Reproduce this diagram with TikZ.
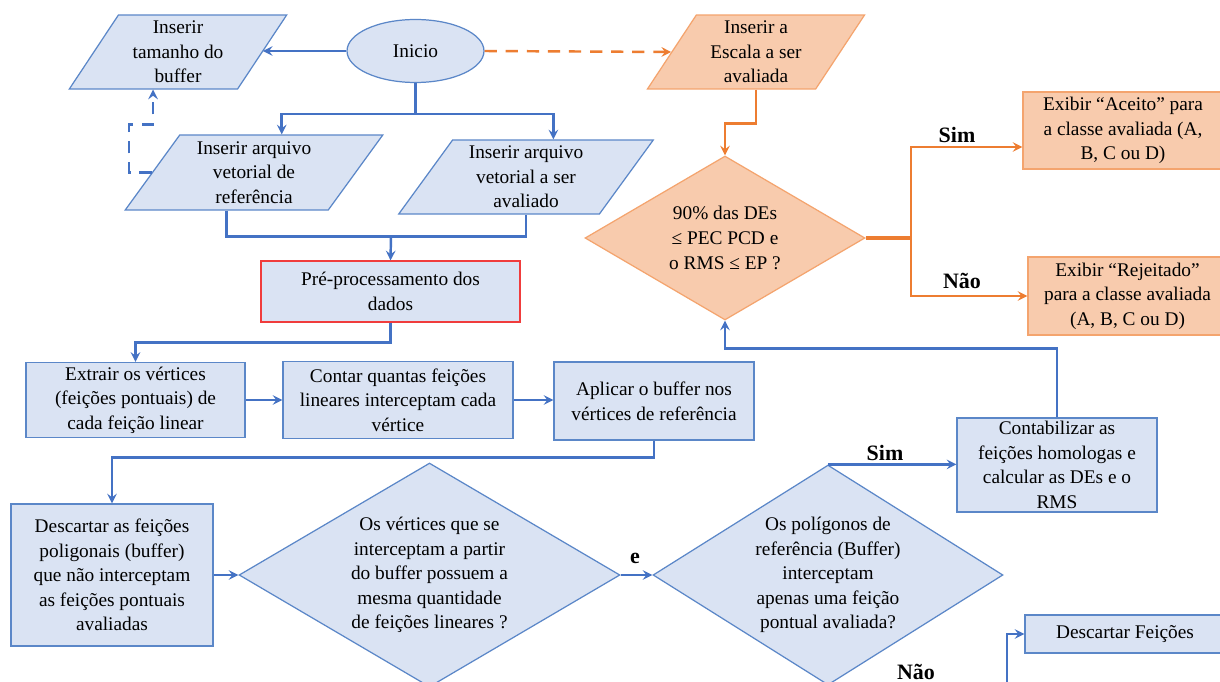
\documentclass[tikz,border=0pt]{standalone}
\usepackage{fontspec}
\setmainfont{Liberation Serif}
\usepackage{tikz}
\usetikzlibrary{positioning}
\usetikzlibrary{arrows}
\usetikzlibrary{shapes.geometric}

\definecolor{azulclaro}{HTML}{DAE3F3}
\definecolor{azulborda}{HTML}{5B87C8}
\definecolor{azulseta}{HTML}{4472C4}
\definecolor{laranjaclaro}{HTML}{F8CBAD}
\definecolor{laranjaborda}{HTML}{F4A46E}
\definecolor{laranjaseta}{HTML}{ED7D31}
\definecolor{vermelho}{HTML}{F03C3C}

\begin{document}
\begin{tikzpicture}[x=0.02cm, y=-0.02cm,
	txt/.style={font=\fontsize{11}{14}\selectfont, align=center, inner sep=0pt},
	rot/.style={font=\fontsize{12.5}{15}\selectfont\bfseries, inner sep=0pt},
	caixa/.style={rectangle, draw=azulborda, fill=azulclaro, line width=0.7pt, txt},
	caixal/.style={rectangle, draw=laranjaborda, fill=laranjaclaro, line width=0.7pt, txt},
	entrada/.style={trapezium, trapezium stretches=true, trapezium left angle=56, trapezium right angle=124, draw=azulborda, fill=azulclaro, line width=0.7pt, txt},
	losango/.style={diamond, aspect=1.7, draw=azulborda, fill=azulclaro, line width=0.7pt, txt},
	link/.style={draw=azulseta, line width=1.4pt},
	arrow/.style={link, -stealth},
	darrow/.style={arrow, dash pattern=on 7pt off 5pt},
	olink/.style={draw=laranjaseta, line width=1.4pt},
	oarrow/.style={olink, -stealth}
]

% Page frame
\useasboundingbox (0,0) rectangle (1220,682);
\fill[white] (0,0) rectangle (1220,682);
\clip (0,0) rectangle (1220,682);

% Input blocks
\node[ellipse, draw=azulborda, fill=azulclaro, line width=0.7pt, txt, minimum width=2.74cm, minimum height=1.26cm] (inicio) at (415.5,51) {Inicio};
\node[entrada, trapezium left angle=59, trapezium right angle=121, minimum width=4.36cm, minimum height=1.48cm] (buffer) at (178,52) {Inserir\\tamanho do\\buffer};
\node[entrada, minimum width=5.16cm, minimum height=1.5cm] (ref) at (254,172.5) {Inserir arquivo\\vetorial de\\referência};
\node[entrada, minimum width=5.1cm, minimum height=1.48cm] (aval) at (526,177) {Inserir arquivo\\vetorial a ser\\avaliado};
\node[entrada, trapezium left angle=59, trapezium right angle=121, draw=laranjaborda, fill=laranjaclaro, minimum width=4.38cm, minimum height=1.48cm] (escala) at (756,52) {Inserir a\\Escala a ser\\avaliada};

% Processing blocks
\node[caixa, draw=vermelho, minimum width=5.18cm, minimum height=1.22cm] (pre) at (390.5,291.5) {Pré-processamento dos\\dados};
\node[caixa, minimum width=4.38cm, minimum height=1.5cm] (extrair) at (135.5,400) {Extrair os vértices\\(feições pontuais) de\\cada feição linear};
\node[caixa, minimum width=4.6cm, minimum height=1.54cm] (contar) at (398,400) {Contar quantas feições\\lineares interceptam cada\\vértice};
\node[caixa, minimum width=4.0cm, minimum height=1.56cm] (aplicar) at (654,401) {Aplicar o buffer nos\\vértices de referência};
\node[caixa, minimum width=4.04cm, minimum height=2.84cm] (descartar) at (112,575) {Descartar as feições\\poligonais (buffer)\\que não interceptam\\as feições pontuais\\avaliadas};
\node[caixa, minimum width=4.0cm, minimum height=1.88cm] (contab) at (1057,465) {Contabilizar as\\feições homologas e\\calcular as DEs e o\\RMS};
\node[caixa, minimum width=4.0cm, minimum height=0.76cm] (descfeic) at (1125,634) {Descartar Feições};

% Decisions
\node[losango, minimum width=7.62cm, minimum height=4.48cm] (vert) at (429.5,575) {Os vértices que se\\interceptam a partir\\do buffer possuem a\\mesma quantidade\\de feições lineares ?};
\node[losango, minimum width=7.0cm, minimum height=4.4cm] (polig) at (828,575) {Os polígonos de\\referência (Buffer)\\interceptam\\apenas uma feição\\pontual avaliada?};
\node[losango, draw=laranjaborda, fill=laranjaclaro, minimum width=5.6cm, minimum height=3.28cm] (pec) at (725,238) {90\% das DEs\\≤ PEC PCD e\\o RMS ≤ EP ?};

% Results
\node[caixal, minimum width=4.0cm, minimum height=1.54cm] (aceito) at (1123,130.5) {Exibir “Aceito” para\\a classe avaliada (A,\\B, C ou D)};
\node[caixal, minimum width=3.98cm, minimum height=1.56cm] (rejeitado) at (1127.5,296) {Exibir “Rejeitado”\\para a classe avaliada\\(A, B, C ou D)};

% Helper points
\coordinate (junta) at (391,236);
\coordinate (bifurca) at (911,238);
\coordinate (naoponta) at (1007,700);

% Blue flow
\draw[arrow] (inicio.west) -- (buffer.right side |- inicio.west);
\draw[arrow] (inicio.south) -- ++(0,31) -| (ref.top side);
\draw[arrow] (inicio.south) -- ++(0,31) -| (aval.top side);
\draw[darrow] (ref.left side) -- ++(-23,0) -- ++(0,-48) -| (buffer.bottom side);
\draw[link] (ref.bottom side) -- ++(0,26) -| (aval.south);
\draw[arrow] (junta) -- (pre.north);
\draw[arrow] (pre.south) -- ++(0,20) -| (extrair.north);
\draw[arrow] (extrair.east) -- (contar.west);
\draw[arrow] (contar.east) -- (contar.east -| aplicar.west);
\draw[arrow] (aplicar.south) -- ++(0,17) -| (descartar.north);
\draw[arrow] (descartar.east) -- (vert.west);
\draw[arrow] (vert.east) -- (polig.west);
\node[rot] (le) at (635,558) {e};
\draw[arrow] (polig.north) -- (polig.north -| contab.west);
\node[rot] (lsim) at (885,453) {Sim};
\draw[arrow] (contab.north) -- ++(0,-69) -| (pec.south);
\draw[arrow] (naoponta) |- (descfeic.west);
\node[rot] (lnao) at (916,672) {Não};

% Orange flow
\draw[oarrow, dash pattern=on 7pt off 5pt] (inicio.east) -- (escala.left side);
\draw[oarrow] (escala.south) -- ++(0,34) -| (pec.north);
\draw[olink, line width=2.2pt] (pec.east) -- (bifurca);
\draw[oarrow] (bifurca) |- ([yshift=-0.33cm]aceito.west);
\draw[oarrow] (bifurca) |- (rejeitado.west);
\node[rot] (osim) at (957,135) {Sim};
\node[rot] (onao) at (962,281) {Não};

\end{tikzpicture}
\end{document}
